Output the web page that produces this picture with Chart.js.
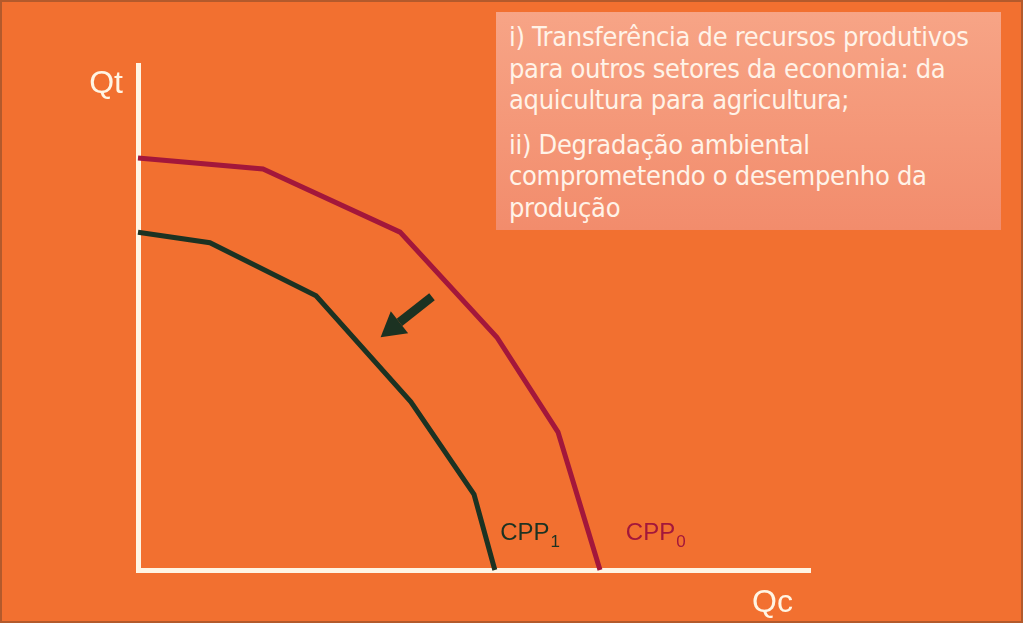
<!DOCTYPE html>
<html>
<head>
<meta charset="utf-8">
<script src="https://cdn.jsdelivr.net/npm/chart.js@4/dist/chart.umd.min.js"></script>
<style>
  body { margin: 0; background: #ffffff; }
  #frame {
    position: absolute; left: 0; top: 0; width: 1023px; height: 623px;
    box-sizing: border-box; background: #f27030; border: 2px solid #b35a2c;
  }
  #ppf { position: absolute; left: 0; top: 0; }
  #note {
    position: absolute; left: 496px; top: 12px; width: 505px; height: 218px;
    box-sizing: border-box; padding: 9px 13px; white-space: nowrap;
    background: linear-gradient(#f7a486, #f28c6c);
    color: #fff3e8; font-family: "DejaVu Sans Condensed", "DejaVu Sans", sans-serif;
    font-size: 27px; line-height: 31.5px; letter-spacing: -0.3px;
  }
  #note p { margin: 0 0 13px 0; }
</style>
</head>
<body>
<div id="frame"></div>
<canvas id="ppf" width="1023" height="623"></canvas>
<div id="note">
  <p>i) Transferência de recursos produtivos<br>para outros setores da economia: da<br>aquicultura para agricultura;</p>
  <p>ii) Degradação ambiental<br>comprometendo o desempenho da<br>produção</p>
</div>
<script>
// production possibility curves (Qc on x, Qt on y, 0-100 scale)
const cpp0X = [0, 18.6, 39.0, 53.4, 62.5, 68.75];
const cpp0Y = [81.6, 79.4, 66.9, 46.1, 27.3, 0];
const cpp1X = [0, 10.7, 26.5, 40.6, 50.0, 53.1];
const cpp1Y = [66.9, 64.8, 54.3, 33.3, 15.0, 0];

// shift arrow, from -> to
const arrowX = [43.75, 36.1];
const arrowY = [54.1, 46.1];

const red = "#a3173b";
const green = "#1c3222";
const cream = "#fff5e4";

function toPoints(xs, ys) {
    return xs.map((x, i) => ({ x: x, y: ys[i] }));
}

const annotations = {
    id: "annotations",
    afterDatasetsDraw(chart) {
        const ctx = chart.ctx;
        const xs = chart.scales.x, ys = chart.scales.y;
        const area = chart.chartArea;

        // arrow
        let x1 = xs.getPixelForValue(arrowX[0]), y1 = ys.getPixelForValue(arrowY[0]);
        let x2 = xs.getPixelForValue(arrowX[1]), y2 = ys.getPixelForValue(arrowY[1]);
        let ang = Math.atan2(y2 - y1, x2 - x1);
        let headLen = 24, headW = 14;
        let bx = x2 - headLen * Math.cos(ang), by = y2 - headLen * Math.sin(ang);
        ctx.save();
        ctx.strokeStyle = green;
        ctx.fillStyle = green;
        ctx.lineWidth = 9;
        ctx.beginPath();
        ctx.moveTo(x1, y1);
        ctx.lineTo(bx, by);
        ctx.stroke();
        ctx.beginPath();
        ctx.moveTo(x2, y2);
        ctx.lineTo(bx + headW * Math.sin(ang), by - headW * Math.cos(ang));
        ctx.lineTo(bx - headW * Math.sin(ang), by + headW * Math.cos(ang));
        ctx.closePath();
        ctx.fill();

        // curve labels
        ctx.textBaseline = "alphabetic";
        ctx.textAlign = "left";
        drawSub(ctx, "CPP", "1", xs.getPixelForValue(53.9), ys.getPixelForValue(5.9), green);
        drawSub(ctx, "CPP", "0", xs.getPixelForValue(72.6), ys.getPixelForValue(5.9), red);

        // axis names
        ctx.fillStyle = cream;
        ctx.font = "32px 'Liberation Sans', Arial, sans-serif";
        ctx.textAlign = "right";
        ctx.fillText("Qt", area.left - 15, area.top + 28);
        ctx.textAlign = "left";
        ctx.fillText("Qc", 752, area.bottom + 42);
        ctx.restore();
    }
};

function drawSub(ctx, main, sub, x, y, color) {
    ctx.fillStyle = color;
    ctx.font = "24px 'Liberation Sans', Arial, sans-serif";
    ctx.fillText(main, x, y);
    let w = ctx.measureText(main).width;
    ctx.font = "17px 'Liberation Sans', Arial, sans-serif";
    ctx.fillText(sub, x + w + 1, y + 7);
}

new Chart(document.getElementById("ppf"), {
    type: "scatter",
    data: {
        datasets: [
            {
                label: "CPP0",
                data: toPoints(cpp0X, cpp0Y),
                showLine: true,
                borderColor: red,
                borderWidth: 5,
                pointRadius: 0,
                clip: false
            },
            {
                label: "CPP1",
                data: toPoints(cpp1X, cpp1Y),
                showLine: true,
                borderColor: green,
                borderWidth: 5,
                pointRadius: 0,
                clip: false
            }
        ]
    },
    options: {
        responsive: false,
        animation: false,
        layout: { padding: { left: 138, top: 65, right: 213, bottom: 53 } },
        plugins: { legend: { display: false }, tooltip: { enabled: false } },
        scales: {
            x: {
                min: 0, max: 100,
                ticks: { display: false },
                grid: { display: false, drawTicks: false },
                border: { color: cream, width: 5 }
            },
            y: {
                min: 0, max: 100,
                ticks: { display: false },
                grid: { display: false, drawTicks: false },
                border: { color: cream, width: 5 }
            }
        }
    },
    plugins: [annotations]
});
</script>
</body>
</html>
